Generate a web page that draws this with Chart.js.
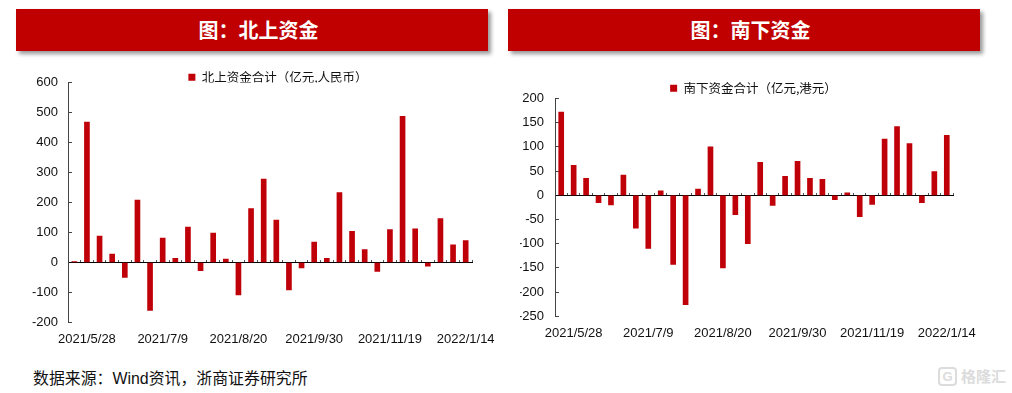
<!DOCTYPE html>
<html>
<head>
<meta charset="utf-8">
<script src="https://cdn.jsdelivr.net/npm/chart.js@4/dist/chart.umd.min.js"></script>
<style>
html, body { margin: 0; padding: 0; background: #fff; }
body { position: relative; width: 1012px; height: 393px; overflow: hidden; font-family: "Liberation Sans", "Noto Sans CJK SC", sans-serif; }
.banner { position: absolute; top: 9px; width: 472px; height: 42px; background: #c00000; color: #fff; font: bold 20px/41px "Noto Sans CJK SC", sans-serif; text-align: center; text-indent: 13px; box-shadow: 3px 3px 4px #999; }
.box { position: absolute; }
#source { position: absolute; left: 33px; top: 369px; font-size: 15.9px; line-height: 20px; color: #111; white-space: nowrap; }
#mark { position: absolute; left: 961px; top: 367px; font: bold 15px/18px "Noto Sans CJK SC", sans-serif; color: #dcdcdc; white-space: nowrap; }
#logo { position: absolute; left: 938px; top: 367px; width: 15px; height: 15px; border: 2px solid #dcdcdc; border-radius: 4px; font: bold 13px/15px "Liberation Sans", sans-serif; color: #dcdcdc; text-align: center; }
</style>
</head>
<body>
<div class="banner" style="left:16px">图&#xFF1A;北上资金</div>
<div class="banner" style="left:508px">图&#xFF1A;南下资金</div>
<div class="box" style="left:20px;top:71px;width:512px;height:280px"><canvas id="north"></canvas></div>
<div class="box" style="left:520px;top:82px;width:464px;height:270px"><canvas id="south"></canvas></div>
<div id="source">数据来源&#xFF1A;Wind资讯&#xFF0C;浙商证券研究所</div>
<div id="logo">G</div>
<div id="mark">格隆汇</div>
<script>
var categories = ["", "2021/5/28", "", "", "", "", "", "2021/7/9", "", "", "", "", "", "2021/8/20", "", "", "", "", "", "2021/9/30", "", "", "", "", "", "2021/11/19", "", "", "", "", "", "2022/1/14"];

var northValues = [3, 468, 88, 28, -50, 208, -160, 81, 14, 118, -27, 98, 11, -108, 180, 278, 141, -91, -18, 68, 14, 233, 104, 43, -30, 110, 487, 112, -12, 146, 59, 73];
var southValues = [172, 62, 35, -15, -20, 42, -68, -110, 9, -143, -226, 13, 100, -150, -40, -100, 68, -21, 39, 70, 35, 33, -9, 5, -44, -19, 116, 142, 107, -15, 49, 124];

var barColor = "#bf0008";
var tickFont = { family: "'Liberation Sans', sans-serif", size: 13 };

function flow_chart(canvasId, label, values, min, max, step, sizes) {
    var ctx = document.getElementById(canvasId).getContext("2d");
    return new Chart(ctx, {
        type: "bar",
        data: {
            labels: categories,
            datasets: [{ label: label, data: values, backgroundColor: barColor, barThickness: 5, xAxisID: "x", yAxisID: "y" }]
        },
        plugins: [{
            // the legend sits right of the plot centre in the original
            id: "legendShift",
            afterLayout: function (chart) {
                chart.legend.left += sizes.legendShift;
                chart.legend.right += sizes.legendShift;
            }
        }],
        options: {
            responsive: true,
            maintainAspectRatio: false,
            animation: false,
            layout: { padding: { left: 0, right: sizes.right, top: 0, bottom: 0 } },
            plugins: {
                tooltip: { enabled: false },
                legend: {
                    position: "top",
                    maxHeight: sizes.legend,
                    labels: {
                        boxWidth: 7, boxHeight: 7, padding: 0, color: "#111",
                        font: { family: "'Noto Sans CJK SC', sans-serif", size: 12.5 }
                    }
                }
            },
            scales: {
                x: {
                    offset: true,
                    border: { display: false },
                    grid: { display: false },
                    ticks: {
                        autoSkip: false, maxRotation: 0, padding: 1, color: "#111", font: tickFont,
                        callback: function (v, i) { return categories[i]; }
                    },
                    afterFit: function (s) { s.height = sizes.bottom; }
                },
                // zero line with its small ticks, the labels stay on the bottom axis
                x2: {
                    type: "category",
                    offset: true,
                    position: { y: 0 },
                    border: { color: "#000", width: 1 },
                    grid: { offset: true, drawOnChartArea: false, tickLength: -3, tickColor: "#555" },
                    ticks: { display: false }
                },
                y: {
                    min: min,
                    max: max,
                    border: { color: "#444", width: 1 },
                    grid: { drawOnChartArea: false, tickLength: -4, tickColor: "#444" },
                    ticks: { stepSize: step, padding: sizes.tickPad, color: "#111", font: tickFont },
                    afterFit: function (s) {
                        s.width = sizes.axis;
                        // tick padding would otherwise push the plot under the legend
                        s.paddingTop = 0;
                        s.paddingBottom = 0;
                    }
                }
            }
        }
    });
}

flow_chart("north", "北上资金合计\uFF08亿元,人民币\uFF09", northValues, -200, 600, 100, { axis: 48, right: 60, bottom: 28.5, legend: 11.5, tickPad: 14, legendShift: 32 });
flow_chart("south", "南下资金合计\uFF08亿元,港元\uFF09", southValues, -250, 200, 50, { axis: 35, right: 31, bottom: 35.7, legend: 16.5, tickPad: 15, legendShift: 17 });
</script>
</body>
</html>
